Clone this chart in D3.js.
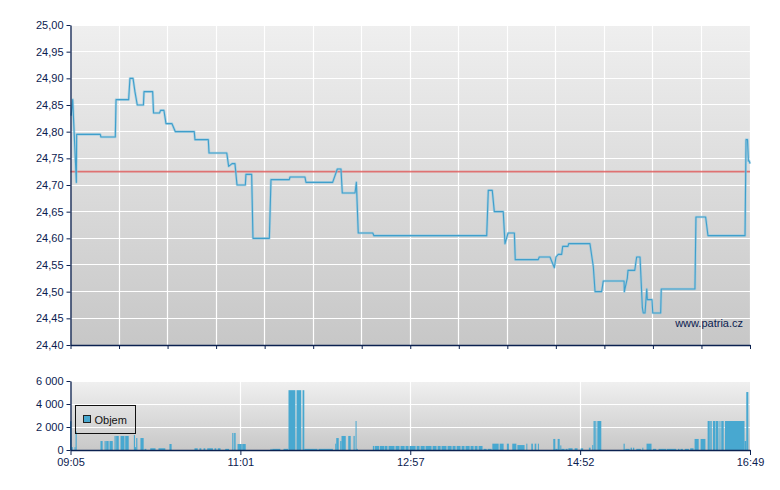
<!DOCTYPE html>
<html><head><meta charset="utf-8">
<script src="https://cdn.jsdelivr.net/npm/d3@7"></script>
<style>body{margin:0;background:#fff}svg{display:block;font-family:"Liberation Sans",Arial,sans-serif}</style>
</head><body><svg id="c" width="780" height="490"></svg>
<script>
// ---- DATA (time = minutes after 09:05) ----
const sessionMinutes = 464;
const timeTickMinutes = [0, 116, 232, 348, 464];
const timeTickLabels = ["09:05", "11:01", "12:57", "14:52", "16:49"];
const priceTicks = [24.40,24.45,24.50,24.55,24.60,24.65,24.70,24.75,24.80,24.85,24.90,24.95,25.00];
const volumeTicks = [0, 2000, 4000, 6000];
const refPrice = 24.725;
const legendLabel = "Objem";
const watermark = "www.patria.cz";

const priceT = [0.5,1.5,4.0,4.2,20.3,20.8,30.6,31.1,39.7,40.6,
42.7,44.0,45.6,49.8,50.2,56.1,56.7,60.8,61.5,63.8,
65.2,69.3,71.6,84.5,85.0,94.1,94.6,106.7,108.0,110.3,
112.3,113.7,119.4,119.8,123.7,124.6,135.8,136.9,149.4,149.9,
160.1,160.8,179.0,182.2,184.7,185.6,194.3,195.2,196.5,206.4,
207.2,284.2,285.3,288.0,289.4,295.5,296.7,298.8,303.1,303.7,
319.4,320.1,327.4,330.4,331.5,333.1,335.4,336.1,339.7,340.2,
354.7,357.0,358.2,362.7,363.8,378.0,378.2,380.2,380.7,385.3,
386.6,388.9,390.5,391.1,392.3,393.5,393.9,397.1,397.6,403.0,
403.4,426.4,427.1,433.7,435.3,460.6,461.3,462.3,462.9,463.5,
464];
const priceV = [24.83,24.86,24.705,24.795,24.795,24.79,24.79,24.86,24.86,24.90,
24.90,24.875,24.85,24.85,24.875,24.875,24.835,24.835,24.84,24.84,
24.815,24.815,24.80,24.80,24.785,24.785,24.76,24.76,24.735,24.74,
24.74,24.70,24.70,24.72,24.72,24.60,24.60,24.71,24.71,24.715,
24.715,24.705,24.705,24.73,24.73,24.685,24.685,24.705,24.61,24.61,
24.605,24.605,24.69,24.69,24.65,24.65,24.59,24.61,24.61,24.56,
24.56,24.565,24.565,24.545,24.565,24.57,24.57,24.585,24.585,24.59,
24.59,24.547,24.50,24.50,24.52,24.52,24.50,24.525,24.54,24.54,
24.565,24.565,24.47,24.46,24.46,24.505,24.485,24.485,24.46,24.46,
24.505,24.505,24.64,24.64,24.605,24.605,24.785,24.785,24.745,24.745,
24.74];

const volT = [0.0,1.0,1.9,3.1,3.8,4.6,
20.8,22.3,23.6,24.4,24.7,26.4,27.0,29.2,
30.4,31.2,31.5,33.3,34.5,37.2,37.7,40.1,
43.6,44.4,45.2,46.0,48.1,50.3,50.9,52.1,
54.8,58.4,60.4,65.1,67.9,69.4,
85.0,87.2,88.4,89.7,91.2,92.4,93.7,97.6,98.7,99.9,100.9,102.8,106.0,108.6,
110.8,111.6,112.1,113.1,114.4,117.3,117.6,120.0,
136.9,137.7,138.1,143.6,145.8,148.9,
149.2,153.9,154.7,157.9,158.8,160.0,169.0,169.7,179.5,
181.1,181.8,183.5,184.5,185.4,188.3,190.0,191.7,193.6,194.4,195.0,195.5,196.5,
206.8,207.8,208.2,211.0,211.5,214.5,214.8,216.8,217.5,221.6,222.3,225.0,225.7,228.5,229.1,231.2,231.9,236.0,236.7,238.7,239.4,242.2,242.8,246.9,247.6,250.3,251.0,253.1,253.7,257.1,257.8,260.6,261.2,263.3,264.0,266.7,267.4,269.4,270.1,272.9,273.5,275.6,276.3,278.3,279.0,281.7,282.4,284.5,285.2,287.9,
288.4,292.7,293.4,296.1,298.3,299.7,302.0,304.8,305.5,310.4,311.6,312.3,315.0,316.1,317.3,318.4,319.5,320.2,
330.0,331.4,333.0,334.4,334.8,335.5,337.7,338.4,339.8,340.3,343.2,344.6,346.6,348.7,350.4,354.3,355.5,
356.6,357.3,357.5,358.4,358.7,359.4,360.1,362.8,
378.0,378.8,379.2,382.1,382.8,383.7,384.4,385.3,386.7,389.8,390.8,391.5,
393.7,397.1,398.0,400.3,401.9,407.2,407.6,414.0,415.1,416.2,416.9,418.5,419.8,422.6,423.5,425.8,
426.5,429.3,430.6,433.9,
435.4,436.9,437.2,438.2,439.0,440.5,440.8,442.8,443.5,444.1,444.7,446.4,447.2,
460.6,461.8,463.2];
const volV = [2500,250,0,250,1600,0,
780,0,780,0,780,0,780,0,
1220,0,1220,0,1220,0,1220,0,
1300,250,1040,0,1040,0,100,0,
150,0,150,0,520,0,
150,0,150,0,150,0,150,0,150,0,150,0,100,0,
1480,0,1480,0,520,0,520,0,
100,0,100,0,100,0,
5200,0,5200,0,5200,100,0,100,0,
550,1040,0,780,1220,0,1220,0,1220,0,2520,100,0,
350,0,350,0,350,0,350,0,350,0,350,0,350,0,350,0,350,0,350,0,350,0,350,0,350,0,350,0,350,0,350,0,350,0,350,0,350,0,350,0,350,0,350,0,350,0,100,0,100,0,
550,0,550,0,550,0,550,0,430,0,550,0,550,0,550,0,550,0,
960,100,960,0,400,100,0,100,0,150,0,150,0,150,0,200,0,
430,0,2520,0,2520,0,2520,0,
550,0,100,0,200,0,200,0,100,0,200,0,
550,0,100,0,100,0,100,0,100,0,100,0,100,0,150,0,
960,0,960,0,
2520,0,2520,0,2520,0,2520,0,2520,0,2520,0,2520,
780,5040,0];

// ---- CHART ----
const navy = "#0b2150";
const barColor = "#48a8d0";
const svg = d3.select("#c");
const X0 = 70.5, X1 = 750;
const x = d3.scaleLinear().domain([0, sessionMinutes]).range([X0, X1]);
const yP = d3.scaleLinear().domain([24.40, 25.00]).range([345, 25]);
const yV = d3.scaleLinear().domain([0, 6000]).range([450, 381]);
const loc = d3.formatLocale({decimal: ",", thousands: " ", grouping: [3], currency: ["", ""]});
const fmtP = loc.format(".2f"), fmtV = loc.format(",.0f");

const defs = svg.append("defs");
function grad(id, c0, c1) {
  const g = defs.append("linearGradient").attr("id", id).attr("x1", 0).attr("y1", 0).attr("x2", 0).attr("y2", 1);
  g.append("stop").attr("offset", "0%").attr("stop-color", c0);
  g.append("stop").attr("offset", "100%").attr("stop-color", c1);
}
grad("bgTop", "#efefef", "#c7c7c7");
grad("bgVol", "#f0f0f0", "#c8c8c8");

const r5 = v => Math.round(v - 0.5) + 0.5;

// Top panel background
svg.append("rect").attr("x", X0).attr("y", yP(25)).attr("width", X1 - X0).attr("height", yP(24.40) - yP(25)).attr("fill", "url(#bgTop)");
const gridTicks = d3.range(0, 15).map(i => i * sessionMinutes / 14);
const gTop = svg.append("g").attr("stroke", "#fff").attr("stroke-width", 1.2);
priceTicks.forEach(v => gTop.append("line").attr("x1", X0).attr("x2", X1).attr("y1", r5(yP(v))).attr("y2", r5(yP(v))));
gridTicks.slice(1).forEach(t => gTop.append("line").attr("x1", r5(x(t))).attr("x2", r5(x(t))).attr("y1", yP(25)).attr("y2", yP(24.40)));

// reference line
svg.append("line").attr("x1", X0).attr("x2", X1).attr("y1", yP(refPrice)).attr("y2", yP(refPrice))
  .attr("stroke", "#e06060").attr("stroke-width", 1.6).attr("opacity", 0.85);

// price line
const pts = priceT.map((t, i) => [t, priceV[i]]);
const line = d3.line().x(d => x(d[0])).y(d => yP(d[1]));
svg.append("path").attr("d", line(pts)).attr("fill", "none").attr("stroke", "#8cc6e0").attr("stroke-width", 2.6).attr("opacity", 0.6).attr("stroke-linejoin", "round");
svg.append("path").attr("d", line(pts)).attr("fill", "none").attr("stroke", "#3f9fcc").attr("stroke-width", 1.1).attr("stroke-linejoin", "round");

// watermark
svg.append("text").attr("x", 743).attr("y", 326.5).attr("text-anchor", "end").attr("font-size", 11).attr("fill", navy).text(watermark);

// Top axes
const axP = svg.append("g").attr("transform", `translate(${X0},0)`)
  .call(d3.axisLeft(yP).tickValues(priceTicks).tickFormat(fmtP).tickSize(4).tickSizeOuter(0).tickPadding(3));
const axPB = svg.append("g").attr("transform", `translate(0,${yP(24.40)})`)
  .call(d3.axisBottom(x).tickValues(gridTicks).tickFormat("").tickSize(4).tickSizeOuter(0));

// Volume panel
svg.append("rect").attr("x", X0).attr("y", yV(6000)).attr("width", X1 - X0).attr("height", yV(0) - yV(6000)).attr("fill", "url(#bgVol)");
const gV = svg.append("g").attr("stroke", "#fff").attr("stroke-width", 1.2);
volumeTicks.slice(1).forEach(v => gV.append("line").attr("x1", X0).attr("x2", X1).attr("y1", r5(yV(v))).attr("y2", r5(yV(v))));
timeTickMinutes.slice(1, -1).forEach(t => gV.append("line").attr("x1", r5(x(t))).attr("x2", r5(x(t))).attr("y1", yV(6000)).attr("y2", yV(0)));

const bars = volT.map((t, i) => ({t, v: volV[i], t2: i < volT.length - 1 ? volT[i + 1] : t + 0.7})).filter(d => d.v > 0);
svg.append("g").selectAll("rect").data(bars).join("rect")
  .attr("x", d => x(d.t) - 0.5)
  .attr("width", d => Math.max(1, x(d.t2) - x(d.t)))
  .attr("y", d => yV(d.v))
  .attr("height", d => yV(0) - yV(d.v))
  .attr("fill", barColor);

const axV = svg.append("g").attr("transform", `translate(${X0},0)`)
  .call(d3.axisLeft(yV).tickValues(volumeTicks).tickFormat(fmtV).tickSize(4).tickSizeOuter(0).tickPadding(3));
const axT = svg.append("g").attr("transform", `translate(0,${yV(0)})`)
  .call(d3.axisBottom(x).tickValues(timeTickMinutes).tickFormat((d, i) => timeTickLabels[i]).tickSize(5).tickSizeOuter(0).tickPadding(3));

[axP, axPB, axV, axT].forEach(a => {
  a.selectAll("path,line").attr("stroke", navy);
  a.select(".domain").attr("stroke-width", 1.3);
  a.selectAll("text").attr("fill", navy).attr("font-size", 11).attr("font-family", '"Liberation Sans",Arial,sans-serif');
});

// legend
const lg = svg.append("g");
lg.append("rect").attr("x", 75.5).attr("y", 405.5).attr("width", 60).attr("height", 28).attr("fill", "none").attr("stroke", "#111");
lg.append("rect").attr("x", 83.5).attr("y", 415.5).attr("width", 7).attr("height", 7).attr("fill", barColor).attr("stroke", "#222");
lg.append("text").attr("x", 94.5).attr("y", 424).attr("font-size", 11).attr("fill", "#111").text(legendLabel);
</script></body></html>
